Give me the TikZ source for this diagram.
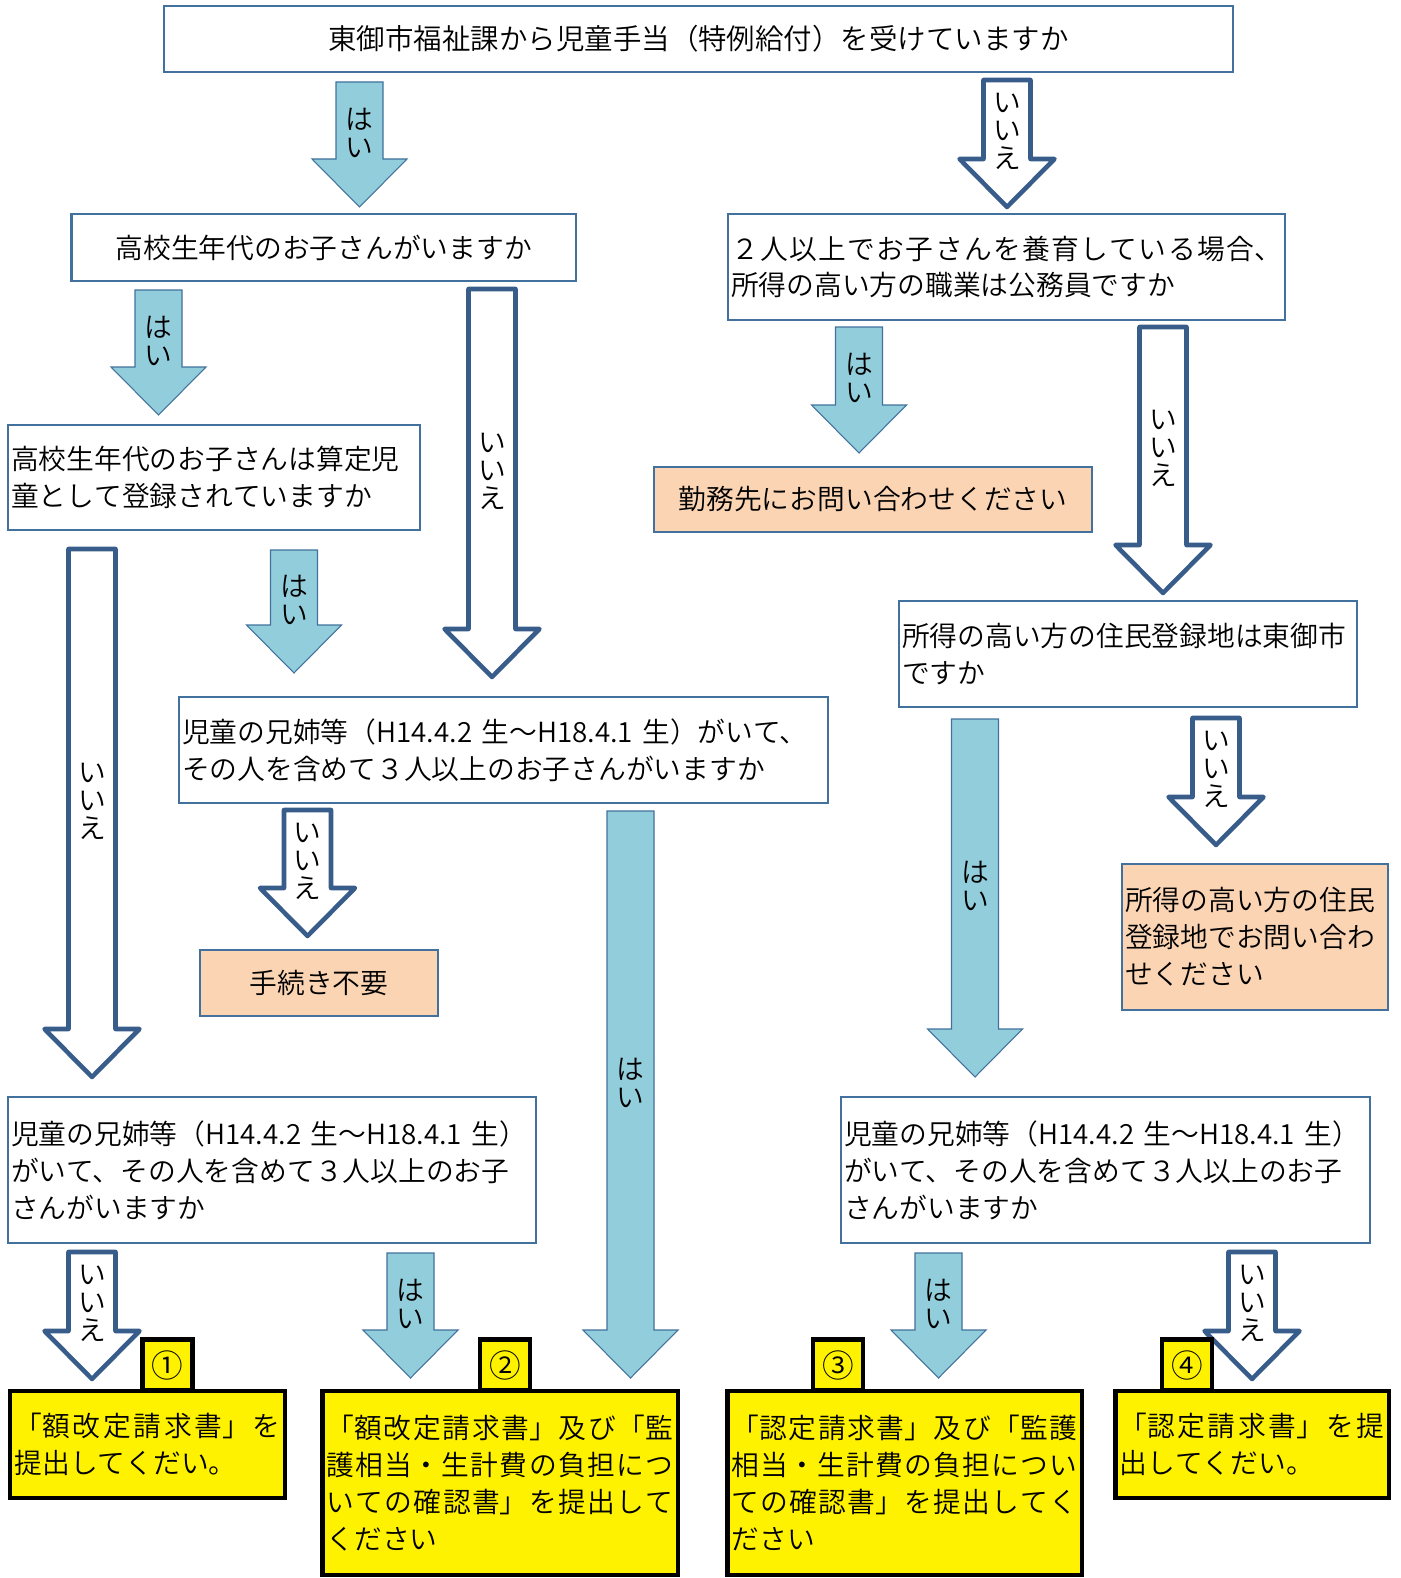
\documentclass[tikz,border=0pt]{standalone}
\usepackage{fontspec}
\IfFontExistsTF{Noto Sans CJK JP DemiLight}
  {\setmainfont{Noto Sans CJK JP DemiLight}}
  {\setmainfont{Noto Sans CJK JP}}
\usepackage{tikz}

\definecolor{boxline}{RGB}{65,113,156}
\definecolor{arrowline}{RGB}{56,93,138}
\definecolor{yesfill}{RGB}{146,205,220}
\definecolor{peach}{RGB}{251,212,180}

\newcommand{\bodyfont}{\fontsize{15.8}{21}\selectfont}
\newcommand{\lblfont}{\fontsize{15.8}{16}\selectfont}
\newcommand{\jajust}{\XeTeXlinebreaklocale "ja"\XeTeXlinebreakskip=0pt plus 4pt\relax}

% block arrow: style, name, x of centre, top, tip, label
\newcommand{\downblock}[6]{%
  \draw[#1] (#3-23.5,#4) -- (#3+23.5,#4) -- (#3+23.5,#5-48) -- (#3+47.5,#5-48)
    -- (#3,#5) -- (#3-47.5,#5-48) -- (#3-23.5,#5-48) -- cycle;
  \node[arrowlbl] (#2) at (#3,{(#4+#5)/2-12}) {#6};}

\tikzset{
  qbox/.style={draw=boxline, line width=1.2pt, fill=white, font=\bodyfont,
    inner xsep=0.06cm, inner ysep=0pt},
  abox/.style={qbox, fill=peach},
  rbox/.style={draw=black, line width=2.8pt, fill=yellow, font=\bodyfont\jajust,
    inner xsep=0.09cm, inner ysep=0pt, align=justify},
  numtag/.style={draw=black, line width=2.8pt, fill=yellow, font=\fontsize{18}{20}\selectfont,
    inner sep=0pt, minimum width=1cm, minimum height=1.02cm},
  yesarr/.style={fill=yesfill, draw=boxline, line width=0.6pt},
  noarr/.style={fill=white, draw=arrowline, line width=2.6pt, line join=round},
  arrowlbl/.style={font=\lblfont, align=center, inner sep=0pt}
}

\begin{document}
\begin{tikzpicture}[x=0.02cm, y=-0.02cm]
  \useasboundingbox (0,0) rectangle (1400,1578);

  % questions
  \node[qbox, minimum width=21.38cm, minimum height=1.32cm, align=center,
    font=\fontsize{16.2}{21}\selectfont] (q1) at (698.5,39)
    {東御市福祉課から児童手当（特例給付）を受けていますか};
  \node[qbox, minimum width=10.09cm, minimum height=1.34cm, align=center] (q2) at (323.75,247.5)
    {高校生年代のお子さんがいますか};
  \node[qbox, text width=11.02cm, minimum height=2.12cm, align=justify, font=\bodyfont\jajust] (q3) at (1006.5,267)
    {２人以上でお子さんを養育している場合、\linebreak 所得の高い方の職業は公務員ですか};
  \node[qbox, text width=8.12cm, minimum height=2.1cm, align=left] (q4) at (214,477.5)
    {高校生年代のお子さんは算定児\\童として登録されていますか};
  \node[qbox, text width=9.04cm, minimum height=2.12cm, align=left] (q5) at (1128,654)
    {所得の高い方の住民登録地は東御市\\ですか};
  \node[qbox, text width=12.86cm, minimum height=2.12cm, align=left] (q6) at (503.5,750)
    {児童の兄姉等（H14.4.2~生～H18.4.1~生）がいて、\\その人を含めて３人以上のお子さんがいますか};
  \node[qbox, text width=10.44cm, minimum height=2.92cm, align=left] (q7) at (272,1170)
    {児童の兄姉等（H14.4.2~生～H18.4.1~生）\\がいて、その人を含めて３人以上のお子\\さんがいますか};
  \node[qbox, text width=10.46cm, minimum height=2.92cm, align=left] (q8) at (1105.5,1170)
    {児童の兄姉等（H14.4.2~生～H18.4.1~生）\\がいて、その人を含めて３人以上のお子\\さんがいますか};

  % answers
  \node[abox, minimum width=8.76cm, minimum height=1.3cm, align=center] (a1) at (873,499.5)
    {勤務先にお問い合わせください};
  \node[abox, minimum width=4.76cm, minimum height=1.32cm, align=center] (a2) at (319,983)
    {手続き不要};
  \node[abox, text width=5.2cm, minimum height=2.92cm, align=left] (a3) at (1255,937)
    {所得の高い方の住民\\登録地でお問い合わ\\せください};

  % arrows
  \downblock{yesarr}{l1}{359.5}{82}{207}{は\\い}
  \downblock{noarr}{l2}{1007}{80}{207}{い\\い\\え}
  \downblock{yesarr}{l3}{158.5}{290}{415}{は\\い}
  \downblock{noarr}{l4}{492}{289}{677}{い\\い\\え}
  \downblock{yesarr}{l5}{859}{327}{453}{は\\い}
  \downblock{noarr}{l6}{1163}{327}{593}{い\\い\\え}
  \downblock{yesarr}{l7}{294}{550}{673}{は\\い}
  \downblock{noarr}{l8}{92}{549}{1077}{い\\い\\え}
  \downblock{noarr}{l9}{307.5}{810}{936}{い\\い\\え}
  \downblock{yesarr}{l10}{630.5}{811}{1378}{は\\い}
  \downblock{yesarr}{l11}{975}{719}{1077}{は\\い}
  \downblock{noarr}{l12}{1216}{718}{845}{い\\い\\え}
  \downblock{noarr}{l13}{92}{1252}{1379}{い\\い\\え}
  \downblock{yesarr}{l14}{410.5}{1253}{1378}{は\\い}
  \downblock{yesarr}{l15}{938.5}{1253}{1378}{は\\い}
  \downblock{noarr}{l16}{1252}{1252}{1379}{い\\い\\え}

  % results
  \node[numtag] (t1) at (167.5,1365) {①};
  \node[numtag] (t2) at (505,1365) {②};
  \node[numtag] (t3) at (838,1365) {③};
  \node[numtag] (t4) at (1187,1365) {④};
  \node[rbox, text width=5.32cm, minimum height=2.14cm] (r1) at (147.5,1444.5)
    {「額改定請求書」を\linebreak 提出してくだい。};
  \node[rbox, text width=6.94cm, minimum height=3.68cm] (r2) at (500,1483)
    {「額改定請求書」及び「監\linebreak 護相当・生計費の負担につ\linebreak いての確認書」を提出して\linebreak ください};
  \node[rbox, text width=6.92cm, minimum height=3.68cm] (r3) at (904.5,1483)
    {「認定請求書」及び「監護\linebreak 相当・生計費の負担につい\linebreak ての確認書」を提出してく\linebreak ださい};
  \node[rbox, text width=5.3cm, minimum height=2.14cm] (r4) at (1252,1444.5)
    {「認定請求書」を提\linebreak 出してくだい。};
\end{tikzpicture}
\end{document}
